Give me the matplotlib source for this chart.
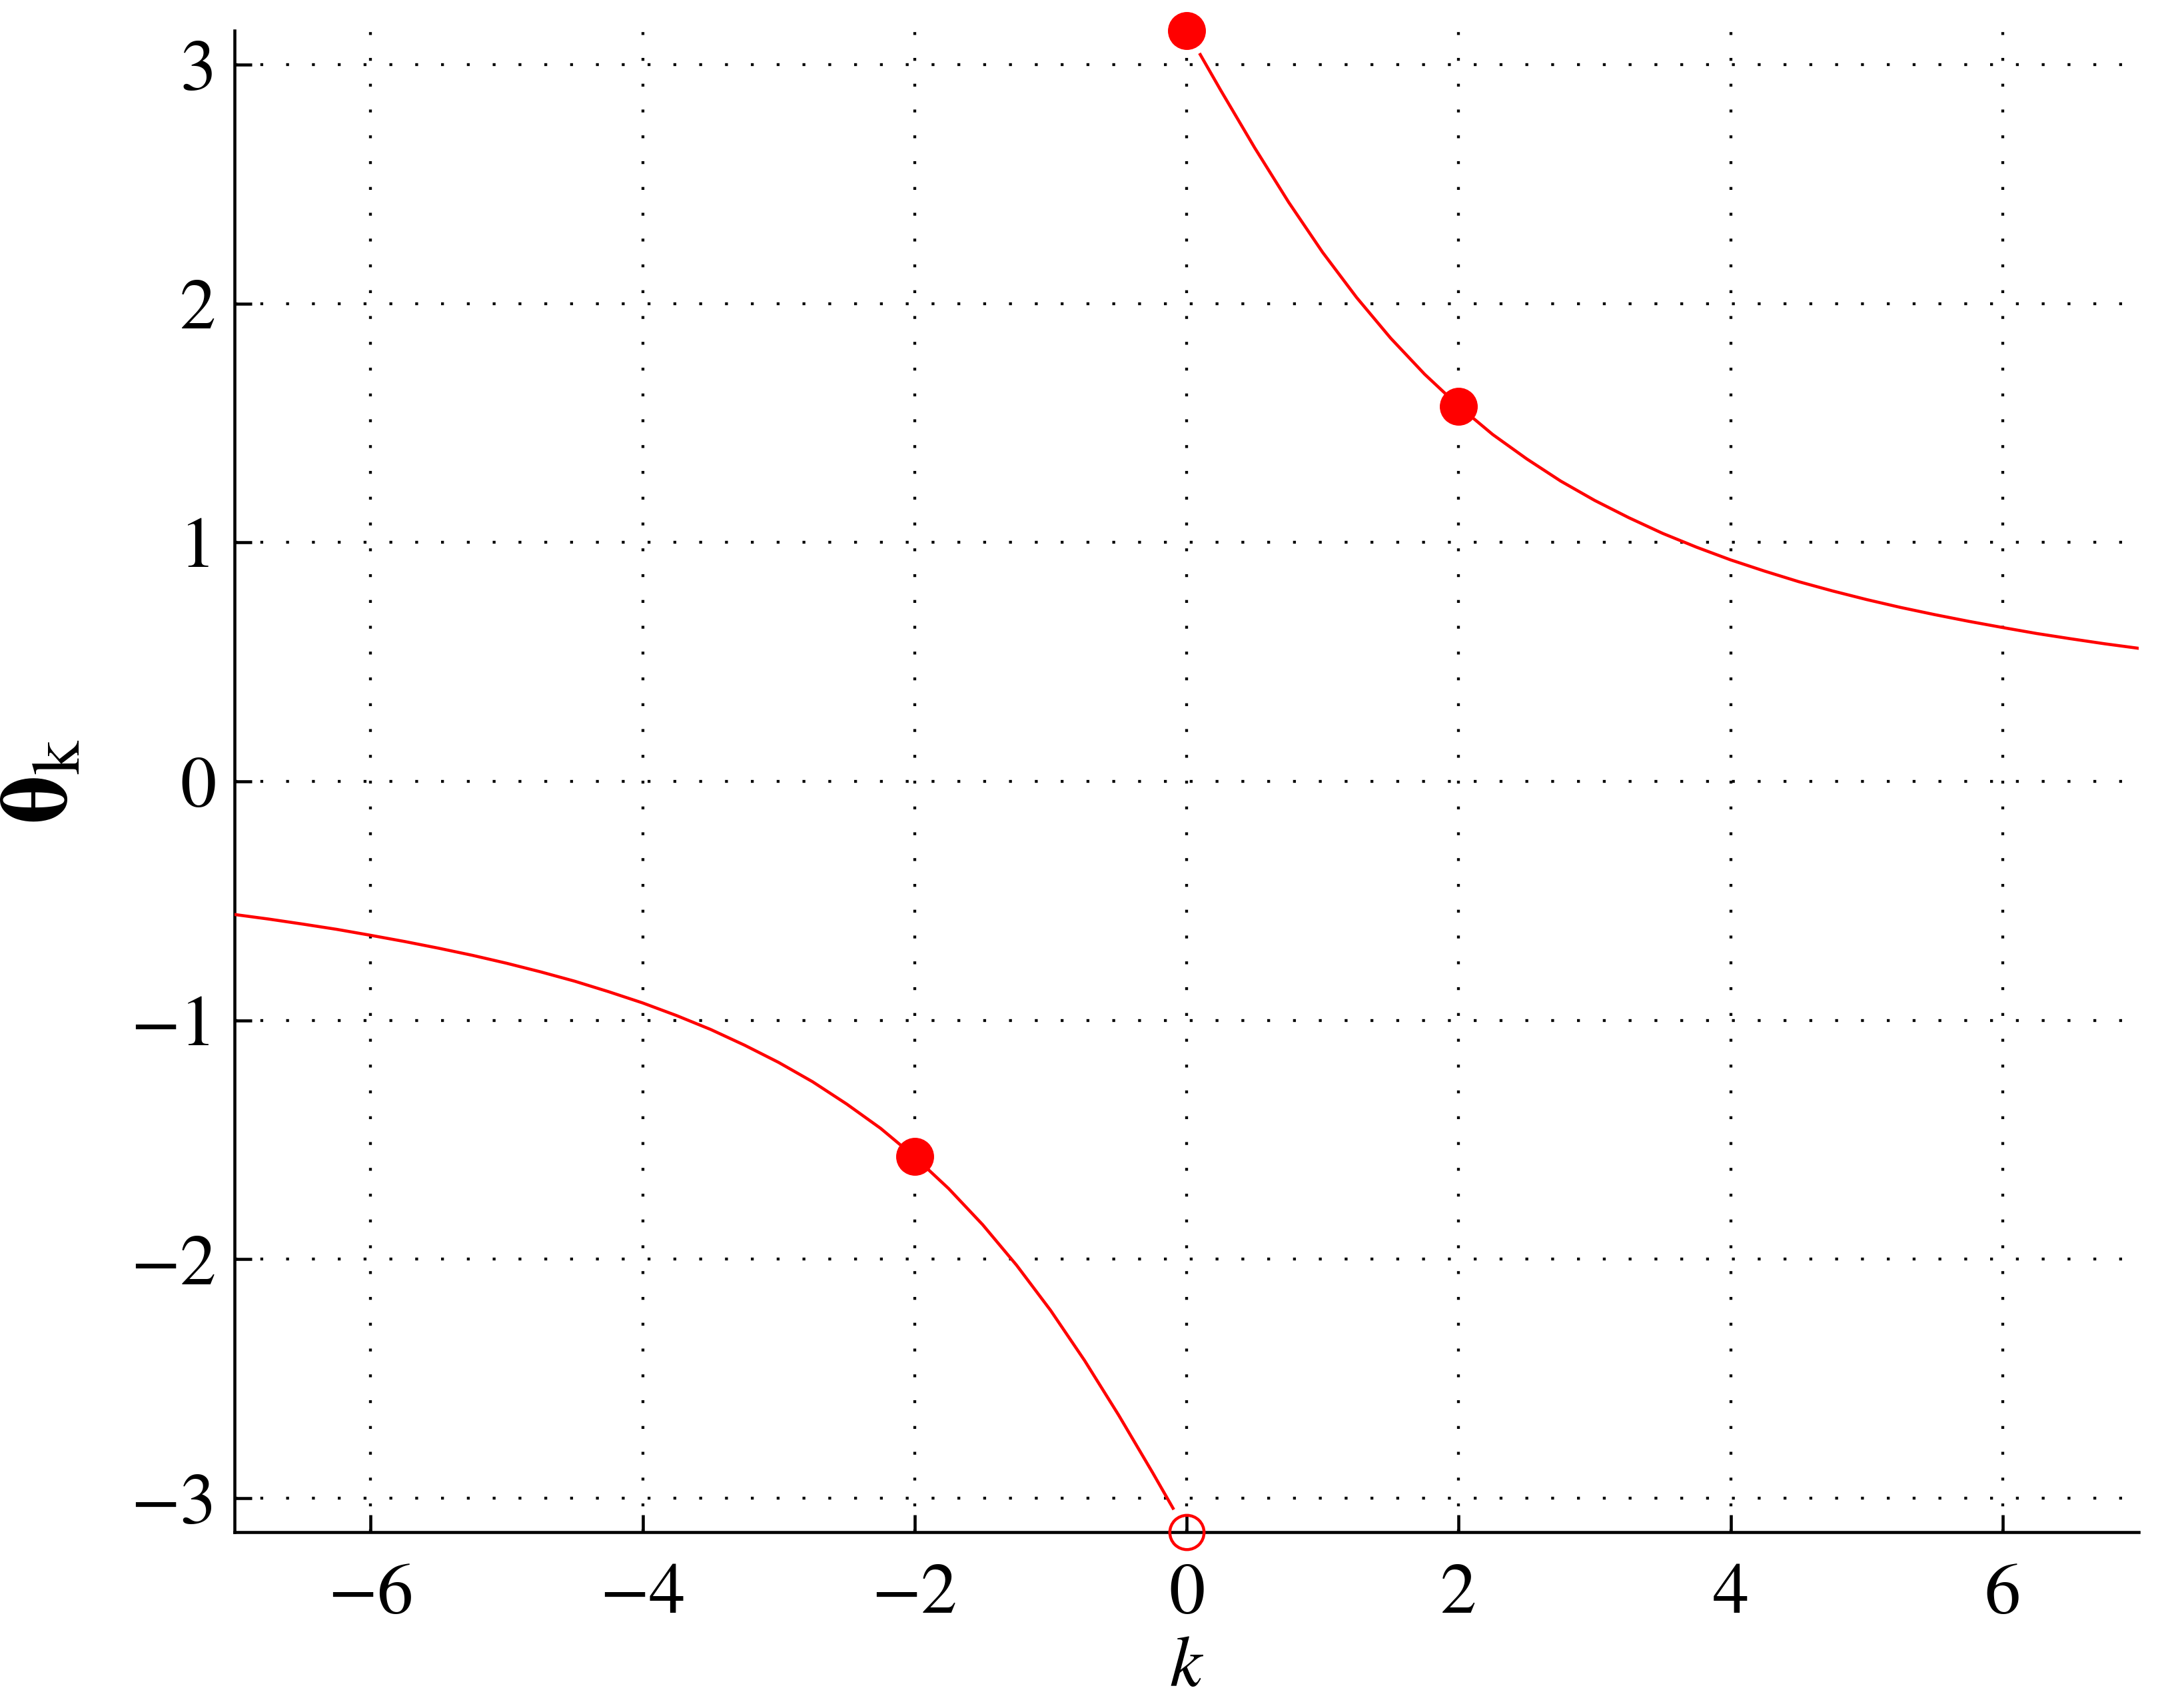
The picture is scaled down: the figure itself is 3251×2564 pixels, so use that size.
import matplotlib
matplotlib.use("Agg")
import matplotlib.pyplot as plt

plt.rcParams["font.family"] = ["STIXGeneral", "DejaVu Serif"]
plt.rcParams["mathtext.fontset"] = "stix"

# branche k > 0
k_pos = [0.1, 0.25, 0.5, 0.75, 1.0, 1.25, 1.5, 1.75, 2.0, 2.25, 2.5, 2.75, 3.0,
         3.25, 3.5, 3.75, 4.0, 4.25, 4.5, 4.75, 5.0, 5.25, 5.5, 5.75, 6.0, 6.25,
         6.5, 6.75, 7.0]
theta_pos = [3.042, 2.893, 2.652, 2.424, 2.214, 2.025, 1.855, 1.704, 1.571, 1.452,
             1.350, 1.257, 1.176, 1.104, 1.038, 0.980, 0.927, 0.880, 0.836, 0.797,
             0.761, 0.728, 0.698, 0.670, 0.644, 0.619, 0.597, 0.576, 0.557]

# branche k < 0
k_neg = [-7.0, -6.75, -6.5, -6.25, -6.0, -5.75, -5.5, -5.25, -5.0, -4.75, -4.5,
         -4.25, -4.0, -3.75, -3.5, -3.25, -3.0, -2.75, -2.5, -2.25, -2.0, -1.75,
         -1.5, -1.25, -1.0, -0.75, -0.5, -0.25, -0.1]
theta_neg = [-0.557, -0.576, -0.597, -0.619, -0.644, -0.670, -0.698, -0.728, -0.761,
             -0.797, -0.836, -0.880, -0.927, -0.980, -1.038, -1.104, -1.176, -1.257,
             -1.350, -1.452, -1.571, -1.704, -1.855, -2.025, -2.214, -2.424, -2.652,
             -2.893, -3.042]

# points particuliers
k_pleins = [-2, 0, 2]
theta_pleins = [-1.5708, 3.1416, 1.5708]
k_vide = [0]
theta_vide = [-3.1416]

xticks = [-6, -4, -2, 0, 2, 4, 6]
yticks = [-3, -2, -1, 0, 1, 2, 3]

fig = plt.figure(figsize=(32.51, 25.64), dpi=100)
ax = fig.add_axes([0.1083, 0.103, 0.8791, 0.879])

rouge = "#ff0000"
ax.plot(k_pos, theta_pos, color=rouge, lw=3.3, zorder=3)
ax.plot(k_neg, theta_neg, color=rouge, lw=3.3, zorder=3)
ax.plot(k_pleins, theta_pleins, "o", color=rouge, ms=41, mew=0, zorder=4, clip_on=False)
ax.plot(k_vide, theta_vide, "o", mfc="none", mec=rouge, ms=37, mew=3.2, zorder=4, clip_on=False)

ax.set_xlim(-7, 7)
ax.set_ylim(-3.1416, 3.1416)
ax.set_xticks(xticks)
ax.set_yticks(yticks)
ax.set_xticklabels(["\u2212" + str(-t) if t < 0 else str(t) for t in xticks])
ax.set_yticklabels(["\u2212" + str(-t) if t < 0 else str(t) for t in yticks])

ax.grid(True, color="black", lw=3.1, linestyle=(0, (1, 8)), dash_capstyle="butt")
ax.set_axisbelow(True)

for s in ["top", "right"]:
    ax.spines[s].set_visible(False)
for s in ["left", "bottom"]:
    ax.spines[s].set_linewidth(3.3)

ax.tick_params(direction="in", length=19, width=3.3, labelsize=78)
ax.tick_params(axis="x", pad=34)
ax.tick_params(axis="y", pad=20)

ax.set_xlabel(r"$k$", fontsize=78, labelpad=8)
ax.set_ylabel(r"$\mathbf{\theta}_{\mathrm{k}}$", fontsize=104, labelpad=46)

fig.savefig("out.png", dpi=100)
